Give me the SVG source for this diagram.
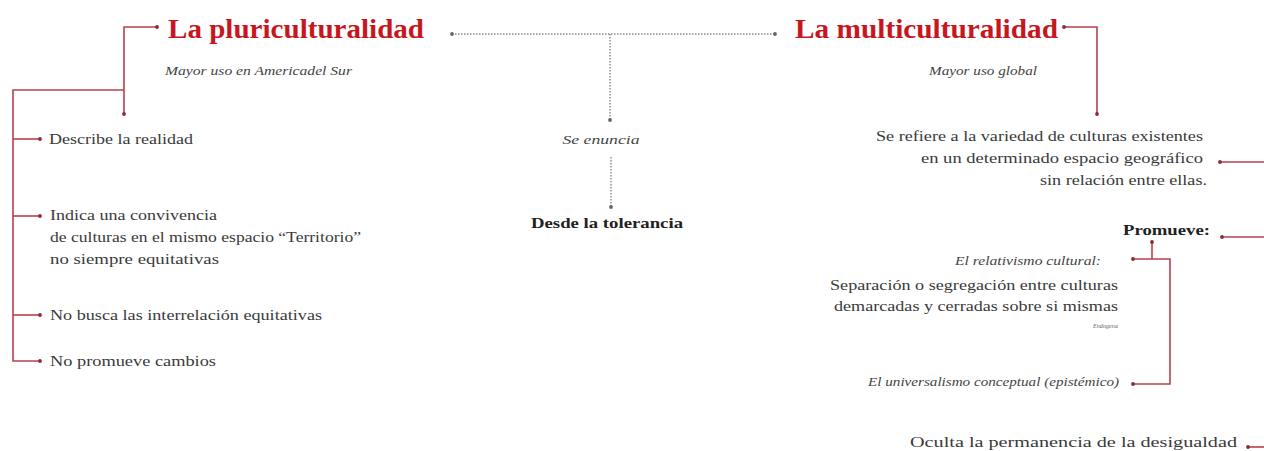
<svg xmlns="http://www.w3.org/2000/svg" width="1264" height="451" viewBox="0 0 1264 451">
  <style>
    .title { font-family: "Liberation Serif", serif; font-weight: bold; font-size: 28px; fill: #c8161e; }
    .t { font-family: "Liberation Serif", serif; font-size: 15px; fill: #3a3a3a; }
    .it { font-family: "Liberation Serif", serif; font-style: italic; font-size: 13px; fill: #444; }
    .b { font-family: "Liberation Serif", serif; font-weight: bold; font-size: 15px; fill: #222; }
    .sm { font-family: "Liberation Serif", serif; font-style: italic; font-size: 7px; fill: #666; }
    .red { fill: none; stroke: #b8404c; stroke-width: 1.6; }
    .dot { fill: none; stroke: #888; stroke-width: 1.4; stroke-dasharray: 1.5 1.5; }
  </style>
  <defs>
    <marker id="rdot" markerWidth="6" markerHeight="6" refX="3" refY="3" markerUnits="userSpaceOnUse">
      <circle cx="3" cy="3" r="1.9" fill="#8a2a35"/>
    </marker>
    <marker id="gdot" markerWidth="6" markerHeight="6" refX="3" refY="3" markerUnits="userSpaceOnUse">
      <circle cx="3" cy="3" r="1.9" fill="#666"/>
    </marker>
  </defs>
  <rect width="1264" height="451" fill="#fff"/>

  <g id="connectors">
    <!-- left bracket -->
    <polyline class="red" points="157,27 124,27 124,114" marker-start="url(#rdot)" marker-end="url(#rdot)"/>
    <polyline class="red" points="124,90 13,90 13,361 40,361" marker-end="url(#rdot)"/>
    <line class="red" x1="13" y1="139" x2="40" y2="139" marker-end="url(#rdot)"/>
    <line class="red" x1="13" y1="216" x2="40" y2="216" marker-end="url(#rdot)"/>
    <line class="red" x1="13" y1="315" x2="40" y2="315" marker-end="url(#rdot)"/>
    <!-- middle dotted -->
    <line class="dot" x1="452" y1="34" x2="775" y2="34" marker-start="url(#gdot)" marker-end="url(#gdot)"/>
    <line class="dot" x1="610" y1="34" x2="610" y2="120" marker-end="url(#gdot)"/>
    <line class="dot" x1="611" y1="157" x2="611" y2="207" marker-end="url(#gdot)"/>
    <!-- right bracket -->
    <polyline class="red" points="1064,27 1097,27 1097,114" marker-start="url(#rdot)" marker-end="url(#rdot)"/>
    <line class="red" x1="1264" y1="162" x2="1220" y2="162" marker-end="url(#rdot)"/>
    <line class="red" x1="1264" y1="237" x2="1222" y2="237" marker-end="url(#rdot)"/>
    <line class="red" x1="1264" y1="447" x2="1248" y2="447" marker-end="url(#rdot)"/>
    <!-- promueve bracket -->
    <line class="red" x1="1152" y1="242" x2="1152" y2="259" marker-start="url(#rdot)"/>
    <polyline class="red" points="1133,259 1170,259 1170,384 1133,384" marker-start="url(#rdot)" marker-end="url(#rdot)"/>
  </g>

  <g id="pluri">
    <text class="title" x="168" y="38" textLength="256" lengthAdjust="spacingAndGlyphs">La pluriculturalidad</text>
    <text class="it" x="165" y="75" textLength="187" lengthAdjust="spacingAndGlyphs">Mayor uso en Americadel Sur</text>
  </g>
  <g id="describe"><text class="t" x="49" y="144" textLength="144" lengthAdjust="spacingAndGlyphs">Describe la realidad</text></g>
  <g id="indica">
    <text class="t" x="50" y="220" textLength="167" lengthAdjust="spacingAndGlyphs">Indica una convivencia</text>
    <text class="t" x="50" y="242" textLength="311" lengthAdjust="spacingAndGlyphs">de culturas en el mismo espacio “Territorio”</text>
    <text class="t" x="50" y="264" textLength="169" lengthAdjust="spacingAndGlyphs">no siempre equitativas</text>
  </g>
  <g id="nobusca"><text class="t" x="50" y="320" textLength="272" lengthAdjust="spacingAndGlyphs">No busca las interrelación equitativas</text></g>
  <g id="nopromueve"><text class="t" x="50" y="366" textLength="166" lengthAdjust="spacingAndGlyphs">No promueve cambios</text></g>

  <g id="seenuncia"><text class="it" x="601" y="144" text-anchor="middle" textLength="77" lengthAdjust="spacingAndGlyphs">Se enuncia</text></g>
  <g id="desde"><text class="b" x="531" y="228" textLength="152" lengthAdjust="spacingAndGlyphs">Desde la tolerancia</text></g>

  <g id="multi">
    <text class="title" x="795" y="38" textLength="263" lengthAdjust="spacingAndGlyphs">La multiculturalidad</text>
    <text class="it" x="929" y="75" textLength="108" lengthAdjust="spacingAndGlyphs">Mayor uso global</text>
  </g>
  <g id="serefiere">
    <text class="t" x="1203" y="141" text-anchor="end" textLength="327" lengthAdjust="spacingAndGlyphs">Se refiere a la variedad de culturas existentes</text>
    <text class="t" x="1203" y="163" text-anchor="end" textLength="282" lengthAdjust="spacingAndGlyphs">en un determinado espacio geográfico</text>
    <text class="t" x="1207" y="185" text-anchor="end" textLength="167" lengthAdjust="spacingAndGlyphs">sin relación entre ellas.</text>
  </g>
  <g id="promueve"><text class="b" x="1123" y="235" textLength="87" lengthAdjust="spacingAndGlyphs">Promueve:</text></g>
  <g id="relativismo">
    <text class="it" x="1101" y="265" text-anchor="end" textLength="146" lengthAdjust="spacingAndGlyphs">El relativismo cultural:</text>
    <text class="t" x="1118" y="290" text-anchor="end" textLength="288" lengthAdjust="spacingAndGlyphs">Separación o segregación entre culturas</text>
    <text class="t" x="1118" y="311" text-anchor="end" textLength="284" lengthAdjust="spacingAndGlyphs">demarcadas y cerradas sobre si mismas</text>
    <text class="sm" x="1118" y="328" text-anchor="end" textLength="25" lengthAdjust="spacingAndGlyphs">Endogena</text>
  </g>
  <g id="universalismo"><text class="it" x="1119" y="386" text-anchor="end" textLength="251" lengthAdjust="spacingAndGlyphs">El universalismo conceptual (epistémico)</text></g>
  <g id="oculta"><text class="t" x="1237" y="447" text-anchor="end" textLength="327" lengthAdjust="spacingAndGlyphs">Oculta la permanencia de la desigualdad</text></g>
</svg>
